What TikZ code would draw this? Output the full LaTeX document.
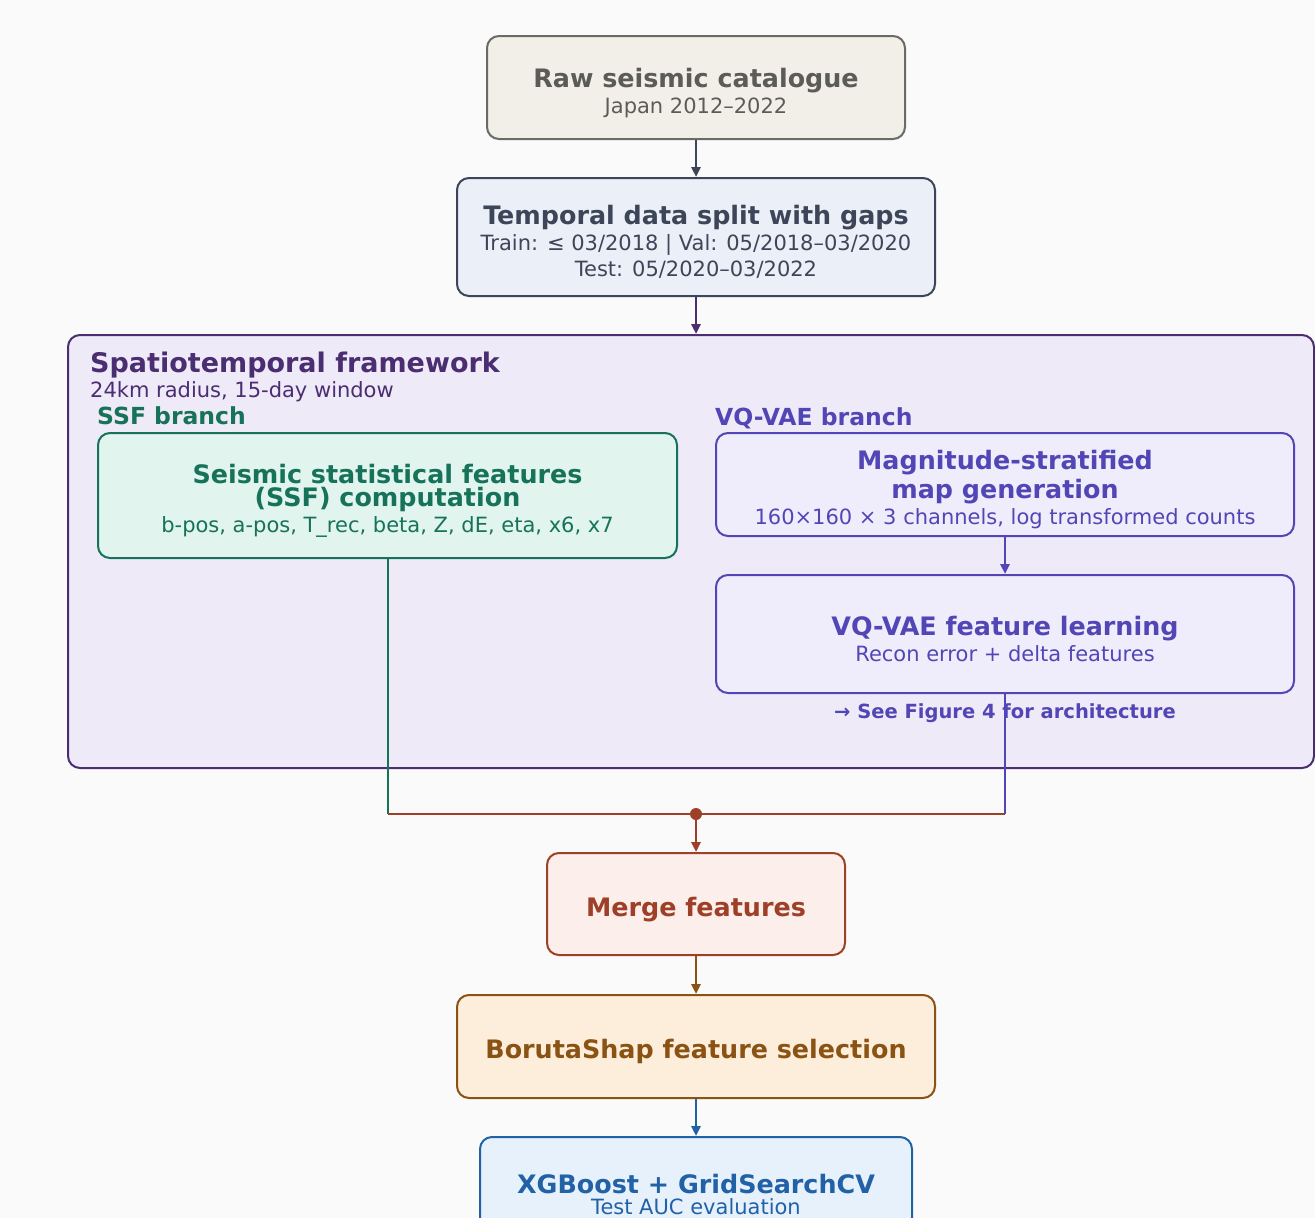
\documentclass[tikz,border=0pt]{standalone}
\usepackage{fontspec}
\setmainfont{DejaVu Sans}
\usepackage{tikz}
\usetikzlibrary{arrows.meta, positioning}

\definecolor{bgcol}{HTML}{FAFAFA}
\definecolor{rawfill}{HTML}{F2EFE8}
\definecolor{rawline}{HTML}{6B6B66}
\definecolor{rawtext}{HTML}{5C5C57}
\definecolor{splitfill}{HTML}{EBEFF7}
\definecolor{splitline}{HTML}{3D4659}
\definecolor{frmfill}{HTML}{EFEAF8}
\definecolor{frmline}{HTML}{4B2D72}
\definecolor{ssffill}{HTML}{E2F4EE}
\definecolor{ssfline}{HTML}{16735A}
\definecolor{vqfill}{HTML}{EFEDFB}
\definecolor{vqline}{HTML}{5246B6}
\definecolor{mergefill}{HTML}{FCEEEA}
\definecolor{mergeline}{HTML}{9E3F27}
\definecolor{borfill}{HTML}{FCEEDA}
\definecolor{borline}{HTML}{8A5213}
\definecolor{xgbfill}{HTML}{E7F1FC}
\definecolor{xgbline}{HTML}{2161A6}

\newcommand{\ttl}[1]{{\fontsize{25.4}{29}\selectfont\bfseries #1}}
% first title line, with a strut that pushes the text block down a little
\newcommand{\ttltop}[1]{\ttl{\rule{0pt}{29.5pt}#1}}

\begin{document}
\begin{tikzpicture}[x=1pt, y=-1pt,
  box/.style={draw, rounded corners=12pt, line width=2pt, align=center,
    font=\fontsize{21}{26}\selectfont, inner sep=0pt},
  rawbox/.style={box, fill=rawfill, draw=rawline, text=rawtext},
  splitbox/.style={box, fill=splitfill, draw=splitline, text=splitline},
  ssfbox/.style={box, fill=ssffill, draw=ssfline, text=ssfline},
  vqbox/.style={box, fill=vqfill, draw=vqline, text=vqline},
  flow/.style={-{Triangle[length=10pt,width=9pt]}, line width=2.8pt},
  tag/.style={anchor=west, inner sep=0pt},
  branch/.style={tag, font=\fontsize{23.5}{28}\selectfont\bfseries}]

% page and background
\useasboundingbox (0,0) rectangle (1315,1218);
\fill[bgcol] (0,0) rectangle (1315,1218);

% Input data
\node[rawbox, minimum width=418pt, minimum height=103pt] (raw) at (696,87.5)
  {\ttltop{Raw seismic catalogue}\\Japan 2012–2022};
\node[splitbox, minimum width=478pt, minimum height=118pt] (split) at (696,237)
  {\ttltop{Temporal data split with gaps}\\Train: ≤ 03/2018 | Val: 05/2018–03/2020\\Test: 05/2020–03/2022};

% Spatiotemporal framework
\node[box, fill=frmfill, draw=frmline, minimum width=1246pt, minimum height=433pt] (frame) at (691,551.5) {};
\node[tag, text=frmline, font=\fontsize{27}{32}\selectfont\bfseries] (frmtitle) at (90,365) {Spatiotemporal framework};
\node[tag, text=frmline, font=\fontsize{21}{26}\selectfont] (frmsub) at (90,392) {24km radius, 15-day window};

% SSF branch
\node[branch, text=ssfline] (ssflabel) at (97,416) {SSF branch};
\node[ssfbox, minimum width=579pt, minimum height=125pt] (ssf) at (387.5,495.5)
  {\ttltop{Seismic statistical features}\\[-3pt]\ttl{(SSF) computation}\\b-pos, a-pos, T\_rec, beta, Z, dE, eta, x6, x7};

% VQ-VAE branch
\node[branch, text=vqline] (vqlabel) at (715,418) {VQ-VAE branch};
\node[vqbox, minimum width=578pt, minimum height=103pt] (map) at (1005,484.5)
  {\ttltop{Magnitude-stratified}\\[3pt]\ttl{map generation}\\160×160 × 3 channels, log transformed counts};
\node[vqbox, minimum width=578pt, minimum height=118pt] (vq) at (1005,634)
  {\ttltop{VQ-VAE feature learning}\\Recon error + delta features};
\node[text=vqline, font=\fontsize{19.5}{24}\selectfont\bfseries] (vqnote) at (1005,713) {→ See Figure 4 for architecture};

% Downstream
\node[box, fill=mergefill, draw=mergeline, text=mergeline, minimum width=298pt, minimum height=102pt] (merge) at (696,904)
  {\ttltop{Merge features}};
\node[box, fill=borfill, draw=borline, text=borline, minimum width=478pt, minimum height=103pt] (boruta) at (696,1046.5)
  {\ttltop{BorutaShap feature selection}};
\node[box, fill=xgbfill, draw=xgbline, text=xgbline, minimum width=432pt, minimum height=118pt] (xgb) at (696,1196)
  {\ttl{XGBoost + GridSearchCV}\\[-5pt]Test AUC evaluation\rule[-4pt]{0pt}{1pt}};

% Connectors
\coordinate (join) at (696,814);
\coordinate (ssfbend) at (ssf.south |- join);
\coordinate (vqbend) at (vq.south |- join);
\draw[flow, draw=splitline, fill=splitline] (raw) -- (split);
\draw[flow, draw=frmline, fill=frmline] (split.south) -- (split.south |- frame.north);
\draw[flow, draw=vqline, fill=vqline] (map) -- (vq);
\draw[line width=2pt, ssfline] (ssf.south) -- (ssfbend);
\draw[line width=2pt, vqline] (vq.south) -- (vqbend);
\draw[line width=2pt, mergeline] (ssfbend) -- (vqbend);
\fill[mergeline] (join) circle (6pt);
\draw[flow, draw=mergeline, fill=mergeline] (join) -- (merge);
\draw[flow, draw=borline, fill=borline] (merge) -- (boruta);
\draw[flow, draw=xgbline, fill=xgbline] (boruta) -- (xgb);
\end{tikzpicture}
\end{document}
